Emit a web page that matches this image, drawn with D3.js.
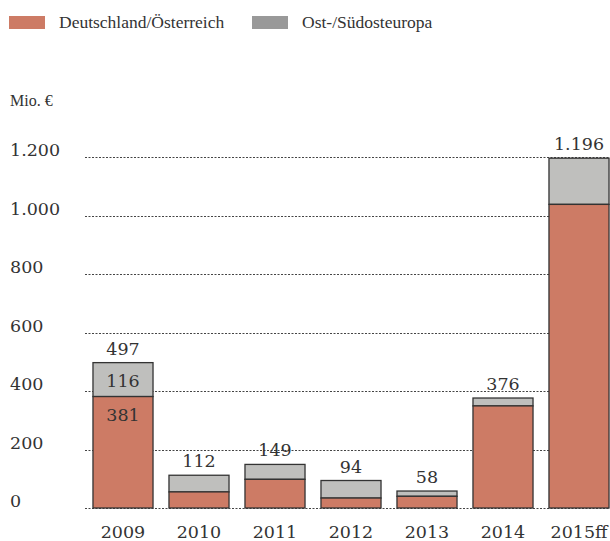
<!DOCTYPE html>
<html>
<head>
<meta charset="utf-8">
<script src="https://cdn.jsdelivr.net/npm/d3@7"></script>
<style>
  body { margin: 0; background: #fff; }
  text { font-family: "Liberation Serif", "DejaVu Serif", serif; fill: #333; }
  text.num { font-family: "DejaVu Serif", serif; }
</style>
</head>
<body>
<div id="chart"></div>
<script>
// data
var years = ["2009", "2010", "2011", "2012", "2013", "2014", "2015ff"];
var dach = [381, 55, 98, 34, 40, 349, 1038];
var ost = [116, 57, 51, 60, 18, 27, 158];
var totals = [497, 112, 149, 94, 58, 376, 1196];
var yTicks = [0, 200, 400, 600, 800, 1000, 1200];
var seriesNames = ["Deutschland/Österreich", "Ost-/Südosteuropa"];

var W = 610, H = 541;
var red = "#cd7b65", grey = "#bfbfbd", greyLegend = "#999999";

var svg = d3.select("#chart").append("svg")
  .attr("width", W)
  .attr("height", H);

var x = d3.scaleBand()
  .domain(years)
  .range([85, 617])
  .paddingInner(0.21)
  .paddingOuter(0.105);

var y = d3.scaleLinear()
  .domain([0, 1200])
  .range([508, 157]);

var fmt = function(v) {
  return d3.format(",")(v).replace(/,/g, ".");
};

// Legende
var legend = svg.append("g");
[[red, 9, 59], [greyLegend, 252, 302]].forEach(function(l, i) {
  legend.append("rect")
    .attr("x", l[1]).attr("y", 16)
    .attr("width", 36).attr("height", 13)
    .attr("fill", l[0]);
  legend.append("text")
    .attr("x", l[2]).attr("y", 28)
    .attr("font-size", 17.5)
    .text(seriesNames[i]);
});

svg.append("text")
  .attr("x", 10).attr("y", 106)
  .attr("font-size", 16)
  .text("Mio. €");

// Gitterlinien und Achsenbeschriftung
svg.selectAll(".grid")
  .data(yTicks)
  .enter()
  .append("line")
  .attr("class", "grid")
  .attr("x1", 85).attr("x2", W)
  .attr("y1", function(d) { return Math.round(y(d)) + 0.5; })
  .attr("y2", function(d) { return Math.round(y(d)) + 0.5; })
  .attr("stroke", "#444")
  .attr("stroke-width", 1)
  .attr("stroke-dasharray", "2,1.5");

svg.selectAll(".ytick")
  .data(yTicks)
  .enter()
  .append("text")
  .attr("class", "ytick num")
  .attr("x", 10)
  .attr("y", function(d) { return y(d) - 1; })
  .attr("font-size", 17.5)
  .text(fmt);

// Balken
var rows = years.map(function(yr, i) {
  return { year: yr, dach: dach[i], ost: ost[i], total: totals[i] };
});

var bars = svg.selectAll(".bar")
  .data(rows)
  .enter()
  .append("g")
  .attr("class", "bar");

bars.append("rect")
  .attr("x", function(d) { return x(d.year); })
  .attr("y", function(d) { return y(d.dach + d.ost); })
  .attr("width", x.bandwidth())
  .attr("height", function(d) { return y(d.dach) - y(d.dach + d.ost); })
  .attr("fill", grey)
  .attr("stroke", "#333")
  .attr("stroke-width", 1.3);

bars.append("rect")
  .attr("x", function(d) { return x(d.year); })
  .attr("y", function(d) { return y(d.dach); })
  .attr("width", x.bandwidth())
  .attr("height", function(d) { return y(0) - y(d.dach); })
  .attr("fill", red)
  .attr("stroke", "#333")
  .attr("stroke-width", 1.3);

bars.append("text")
  .attr("class", "num")
  .attr("x", function(d) { return x(d.year) + x.bandwidth() / 2; })
  .attr("y", function(d) { return y(d.dach + d.ost) - 8; })
  .attr("text-anchor", "middle")
  .attr("font-size", 17.5)
  .text(function(d) { return fmt(d.total); });

bars.append("text")
  .attr("class", "num")
  .attr("x", function(d) { return x(d.year) + x.bandwidth() / 2; })
  .attr("y", 538)
  .attr("text-anchor", "middle")
  .attr("font-size", 17.5)
  .text(function(d) { return d.year; });

// Segmentwerte 2009
var first = rows[0];
svg.append("text")
  .attr("class", "num")
  .attr("x", x(first.year) + x.bandwidth() / 2)
  .attr("y", (y(first.dach) + y(first.dach + first.ost)) / 2 + 7)
  .attr("text-anchor", "middle")
  .attr("font-size", 17.5)
  .text(first.ost);
svg.append("text")
  .attr("class", "num")
  .attr("x", x(first.year) + x.bandwidth() / 2)
  .attr("y", y(first.dach) + 24)
  .attr("text-anchor", "middle")
  .attr("font-size", 17.5)
  .text(first.dach);
</script>
</body>
</html>
